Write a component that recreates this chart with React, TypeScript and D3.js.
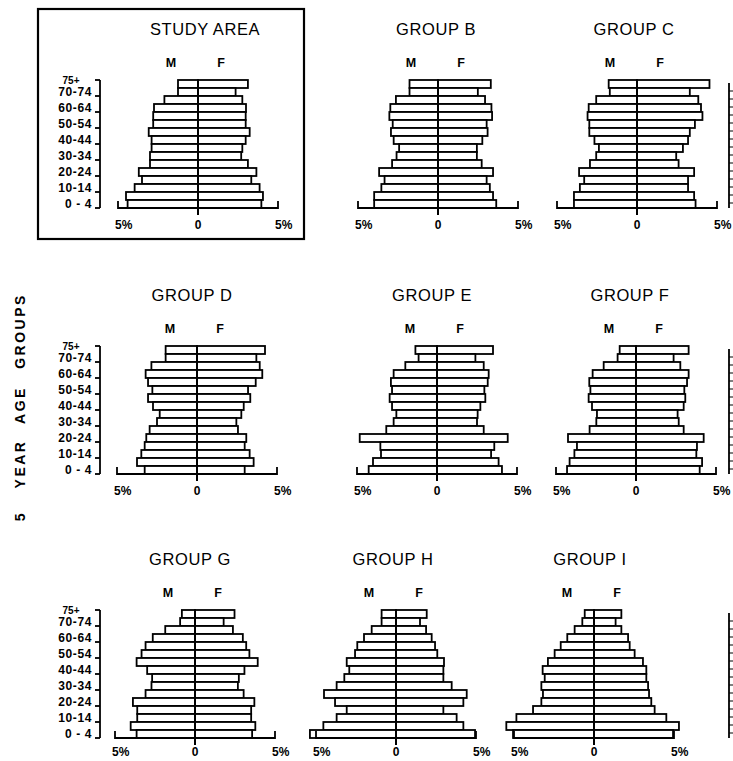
import React from "react";
import * as d3 from "d3";

// Age groups listed from top (oldest) to bottom (youngest)
const AGE_GROUPS = ["75+", "70-74", "65-69", "60-64", "55-59", "50-54", "45-49", "40-44", "35-39", "30-34", "25-29", "20-24", "15-19", "10-14", "5-9", "0-4"];
const AXIS_LABELS = ["70-74", "60-64", "50-54", "40-44", "30-34", "20-24", "10-14", "0 - 4"];
const X_TICKS = ["5%", "0", "5%"];
const TITLES = ["STUDY AREA", "GROUP B", "GROUP C", "GROUP D", "GROUP E", "GROUP F", "GROUP G", "GROUP H", "GROUP I"];

const studyM = [1.25, 1.25, 2.1, 2.75, 2.8, 2.8, 3.08, 2.9, 2.9, 3.0, 3.0, 3.7, 3.5, 3.96, 4.5, 4.4];
const studyF = [3.12, 2.35, 2.77, 3.0, 2.98, 2.98, 3.23, 2.98, 2.77, 2.7, 3.12, 3.65, 3.33, 3.85, 4.06, 3.96];
const groupBM = [1.78, 1.78, 2.63, 2.98, 3.04, 2.83, 2.94, 2.77, 2.43, 2.59, 2.87, 3.68, 3.34, 3.54, 3.99, 3.99];
const groupBF = [3.3, 2.49, 2.94, 3.34, 3.38, 3.04, 3.1, 2.77, 2.43, 2.43, 2.73, 3.44, 3.04, 3.24, 3.44, 3.64];
const groupCM = [1.77, 1.7, 2.55, 3.02, 3.09, 2.98, 2.98, 2.66, 2.38, 2.55, 2.94, 3.62, 3.3, 3.57, 3.94, 3.94];
const groupCF = [4.53, 3.3, 3.83, 4.0, 4.09, 3.62, 3.3, 3.19, 2.87, 2.45, 2.6, 3.57, 3.19, 3.19, 3.57, 3.66];
const groupDM = [1.96, 1.96, 2.85, 3.21, 3.06, 2.79, 3.06, 2.75, 2.33, 2.5, 2.96, 3.17, 3.27, 3.48, 3.75, 3.27];
const groupDF = [4.25, 3.71, 3.92, 4.08, 3.67, 3.19, 3.33, 2.92, 2.77, 2.46, 2.56, 3.08, 2.98, 3.29, 3.54, 2.98];
const groupEM = [1.35, 1.15, 1.98, 2.71, 2.88, 2.81, 2.96, 2.81, 2.54, 2.71, 3.17, 4.83, 3.54, 3.5, 4.0, 4.27];
const groupEF = [3.5, 2.4, 2.92, 3.23, 3.17, 2.96, 3.02, 2.71, 2.54, 2.5, 2.92, 4.42, 3.58, 3.38, 3.85, 4.06];
const groupFM = [1.02, 1.15, 2.02, 2.71, 2.92, 2.85, 2.96, 2.75, 2.44, 2.48, 2.9, 4.25, 3.69, 3.85, 4.15, 4.31];
const groupFF = [3.29, 2.35, 2.77, 3.29, 3.19, 3.02, 3.08, 2.98, 2.6, 2.67, 2.98, 4.23, 3.81, 3.77, 4.13, 3.98];
const groupGM = [0.82, 0.93, 1.86, 2.64, 3.09, 3.34, 3.65, 2.99, 2.68, 2.72, 3.09, 3.88, 3.61, 3.61, 4.02, 3.65];
const groupGF = [2.47, 1.79, 2.37, 2.99, 3.2, 3.4, 3.92, 3.09, 2.74, 2.68, 3.04, 3.71, 3.51, 3.51, 3.77, 3.57];
const groupHM = [0.9, 0.9, 1.52, 2.0, 2.42, 2.56, 3.08, 2.92, 3.23, 3.71, 4.5, 3.81, 3.08, 3.71, 4.54, 5.38];
const groupHF = [1.92, 1.5, 1.88, 2.23, 2.44, 2.58, 3.0, 2.96, 2.96, 3.48, 4.42, 4.21, 2.96, 3.79, 4.21, 4.94];
const groupIM = [0.58, 0.73, 1.21, 1.67, 2.08, 2.46, 2.88, 3.21, 3.08, 3.29, 3.19, 3.29, 3.81, 4.85, 5.48, 5.06];
const groupIF = [1.71, 1.35, 1.71, 2.13, 2.23, 2.54, 3.06, 3.27, 3.27, 3.38, 3.44, 3.58, 3.79, 4.52, 5.31, 4.94];

const MALES = [studyM, groupBM, groupCM, groupDM, groupEM, groupFM, groupGM, groupHM, groupIM];
const FEMALES = [studyF, groupBF, groupCF, groupDF, groupEF, groupFF, groupGF, groupHF, groupIF];

// layout (not data)
const LAYOUT = [
  { cx: 198, top: 80, tdx: 7, yAxis: true, box: true },
  { cx: 438, top: 80, tdx: -2 },
  { cx: 637, top: 80, tdx: -3 },
  { cx: 197, top: 346, tdx: -5, yAxis: true },
  { cx: 437, top: 346, tdx: -5 },
  { cx: 636, top: 346, tdx: -6 },
  { cx: 195, top: 610, tdx: -5, yAxis: true },
  { cx: 396, top: 610, tdx: -3 },
  { cx: 594, top: 610, tdx: -4 },
];
const ROW_TOPS = [80, 346, 610];

const FONT = "'Liberation Sans', Arial, sans-serif";
const HALF = 80;
const PLOT_H = 128;

function Pyramid({ i }: { i: number }) {
  const L = LAYOUT[i];
  const x = d3.scaleLinear().domain([-5, 5]).range([L.cx - HALF, L.cx + HALF]);
  const y = d3.scaleBand().domain(AGE_GROUPS).range([L.top, L.top + PLOT_H]).padding(0);
  const bottom = L.top + PLOT_H;
  const m = MALES[i];
  const f = FEMALES[i];
  const sw = 1.8;
  const labY = Math.min(bottom + 21, 756);
  return (
    <g>
      <text x={L.cx + L.tdx} y={L.top - 45} textAnchor="middle" fontFamily={FONT} fontSize={16.5} letterSpacing={0.6}>{TITLES[i]}</text>
      <text x={L.cx - 27} y={L.top - 13.5} textAnchor="middle" fontFamily={FONT} fontSize={12.5} fontWeight="bold">M</text>
      <text x={L.cx + 23} y={L.top - 13.5} textAnchor="middle" fontFamily={FONT} fontSize={12.5} fontWeight="bold">F</text>
      {AGE_GROUPS.map((g, k) => (
        <g key={g}>
          <rect x={x(-m[k])} y={y(g)!} width={x(0) - x(-m[k])} height={y.bandwidth()} fill="white" stroke="black" strokeWidth={sw} />
          <rect x={x(0)} y={y(g)!} width={x(f[k]) - x(0)} height={y.bandwidth()} fill="white" stroke="black" strokeWidth={sw} />
        </g>
      ))}
      <line x1={x(0)} x2={x(0)} y1={L.top} y2={bottom + 7} stroke="black" strokeWidth={2} />
      <path d={`M${x(-5)},${bottom - 7}V${bottom}H${x(5)}V${bottom - 7}`} fill="none" stroke="black" strokeWidth={1.8} />
      <text x={x(-5) - 3} y={labY} fontFamily={FONT} fontSize={12} fontWeight="bold">{X_TICKS[0]}</text>
      <text x={x(0)} y={labY} textAnchor="middle" fontFamily={FONT} fontSize={12} fontWeight="bold">{X_TICKS[1]}</text>
      <text x={x(5) - 3} y={labY} fontFamily={FONT} fontSize={12} fontWeight="bold">{X_TICKS[2]}</text>
      {L.yAxis && (
        <g>
          <line x1={100} x2={100} y1={L.top} y2={bottom} stroke="black" strokeWidth={1.8} />
          {d3.range(0, 9).map((t) => (
            <line key={t} x1={95} x2={100} y1={L.top + t * 16} y2={L.top + t * 16} stroke="black" strokeWidth={1.8} />
          ))}
          <text x={71} y={L.top + 4} textAnchor="middle" fontFamily={FONT} fontSize={10} fontWeight="bold">75+</text>
          {AXIS_LABELS.map((lab, t) => (
            <text key={lab} x={92} y={L.top + 16 + t * 16} textAnchor="end" fontFamily={FONT} fontSize={12} fontWeight="bold" letterSpacing={0.6}>{lab}</text>
          ))}
        </g>
      )}
      {L.box && <rect x={38} y={9} width={266} height={230} fill="none" stroke="black" strokeWidth={2.2} />}
    </g>
  );
}

export default function App() {
  return (
    <svg width={733} height={761} style={{ position: "absolute", left: 0, top: 0, background: "white" }}>
      <rect x={0} y={0} width={733} height={761} fill="white" />
      {LAYOUT.map((_, i) => (
        <Pyramid key={i} i={i} />
      ))}
      {ROW_TOPS.map((t) => (
        <g key={t}>
          <line x1={729} x2={729} y1={t + 3} y2={t + PLOT_H} stroke="black" strokeWidth={1.8} />
          {d3.range(1, 16).map((k) => (
            <line key={k} x1={729} x2={733} y1={t + 3 + k * 8} y2={t + 3 + k * 8} stroke="black" strokeWidth={1} />
          ))}
        </g>
      ))}
      {[
        { w: "GROUPS", y: 331 },
        { w: "AGE", y: 405 },
        { w: "YEAR", y: 464 },
        { w: "5", y: 516 },
      ].map((d) => (
        <text key={d.w} transform={`translate(25,${d.y}) rotate(-90)`} textAnchor="middle" fontFamily={FONT} fontSize={14} fontWeight="bold" letterSpacing={2.5}>{d.w}</text>
      ))}
    </svg>
  );
}
